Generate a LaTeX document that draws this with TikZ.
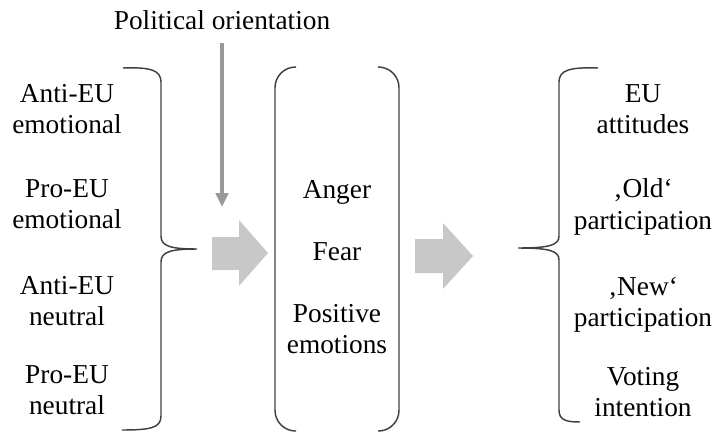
\documentclass[tikz,border=0pt]{standalone}
\usepackage{fontspec}
\setmainfont{Liberation Serif}
\usetikzlibrary{arrows.meta}
\definecolor{linegray}{HTML}{404040}
\definecolor{blockgray}{HTML}{C8C8C8}
\definecolor{orientgray}{HTML}{999999}
\tikzset{
  lbl/.style={align=center, font=\fontsize{20.5}{23.5}\selectfont, inner sep=3pt},
  brace/.style={draw=linegray, line width=1.1pt},
  orient/.style={draw=orientgray, line width=2.4pt, -{Triangle[length=10.5pt,width=9.5pt]}, shorten <=7pt}
}
\begin{document}
\begin{tikzpicture}[x=0.75pt,y=-0.75pt]
            \useasboundingbox (0,0) rectangle (715,433);
            % moderator
            \node[lbl] (pol) at (222,20) {Political orientation};
            \coordinate (poltip) at (222,207);
            \draw[orient] (pol.south) -- (poltip);
            % conditions
            \node[lbl] (antiemo) at (67,109) {Anti-EU\\emotional};
            \node[lbl] (proemo) at (67,204) {Pro-EU\\emotional};
            \node[lbl] (antineu) at (67,301) {Anti-EU\\neutral};
            \node[lbl] (proneu) at (67,390) {Pro-EU\\neutral};
            \draw[brace] (123,68) .. controls (150,67) and (161,70) .. (161,82) -- (161,236)
                .. controls (161,246) and (170,249) .. (197,249)
                .. controls (170,249) and (161,252) .. (161,262) -- (161,416)
                .. controls (161,428) and (150,430) .. (122,430); % left brace
            % first block arrow
            \fill[blockgray] (212,237) -- (239,237) -- (239,220) -- (268,253) -- (239,286) -- (239,270) -- (212,270) -- cycle;
            % emotions
            \draw[brace, rounded corners=15.5pt] (296,67) -- (275,67) -- (275,431) -- (296,431);
            \draw[brace, rounded corners=15.5pt] (378,67) -- (399,67) -- (399,431) -- (378,431);
            \node[lbl] (anger) at (337,192) {Anger};
            \node[lbl] (fear) at (337,252) {Fear};
            \node[lbl] (posemo) at (337,329) {Positive\\emotions};
            % second block arrow
            \fill[blockgray] (415,239) -- (443,239) -- (443,223) -- (473,256) -- (443,289) -- (443,273) -- (415,273) -- cycle;
            % outcomes
            \draw[brace] (598,68) .. controls (570,67) and (559,70) .. (559,82) -- (559,236)
                .. controls (559,245) and (550,248) .. (518,248)
                .. controls (550,248) and (559,251) .. (559,260) -- (559,410)
                .. controls (559,420) and (566,422) .. (580,422); % right brace
            \node[lbl] (attit) at (643,109) {EU\\attitudes};
            \node[lbl] (oldpart) at (643,207) {‚Old‘\\participation};
            \node[lbl] (newpart) at (643,305) {‚New‘\\participation};
            \node[lbl] (voting) at (643,392) {Voting\\intention};
        \end{tikzpicture}
\end{document}
